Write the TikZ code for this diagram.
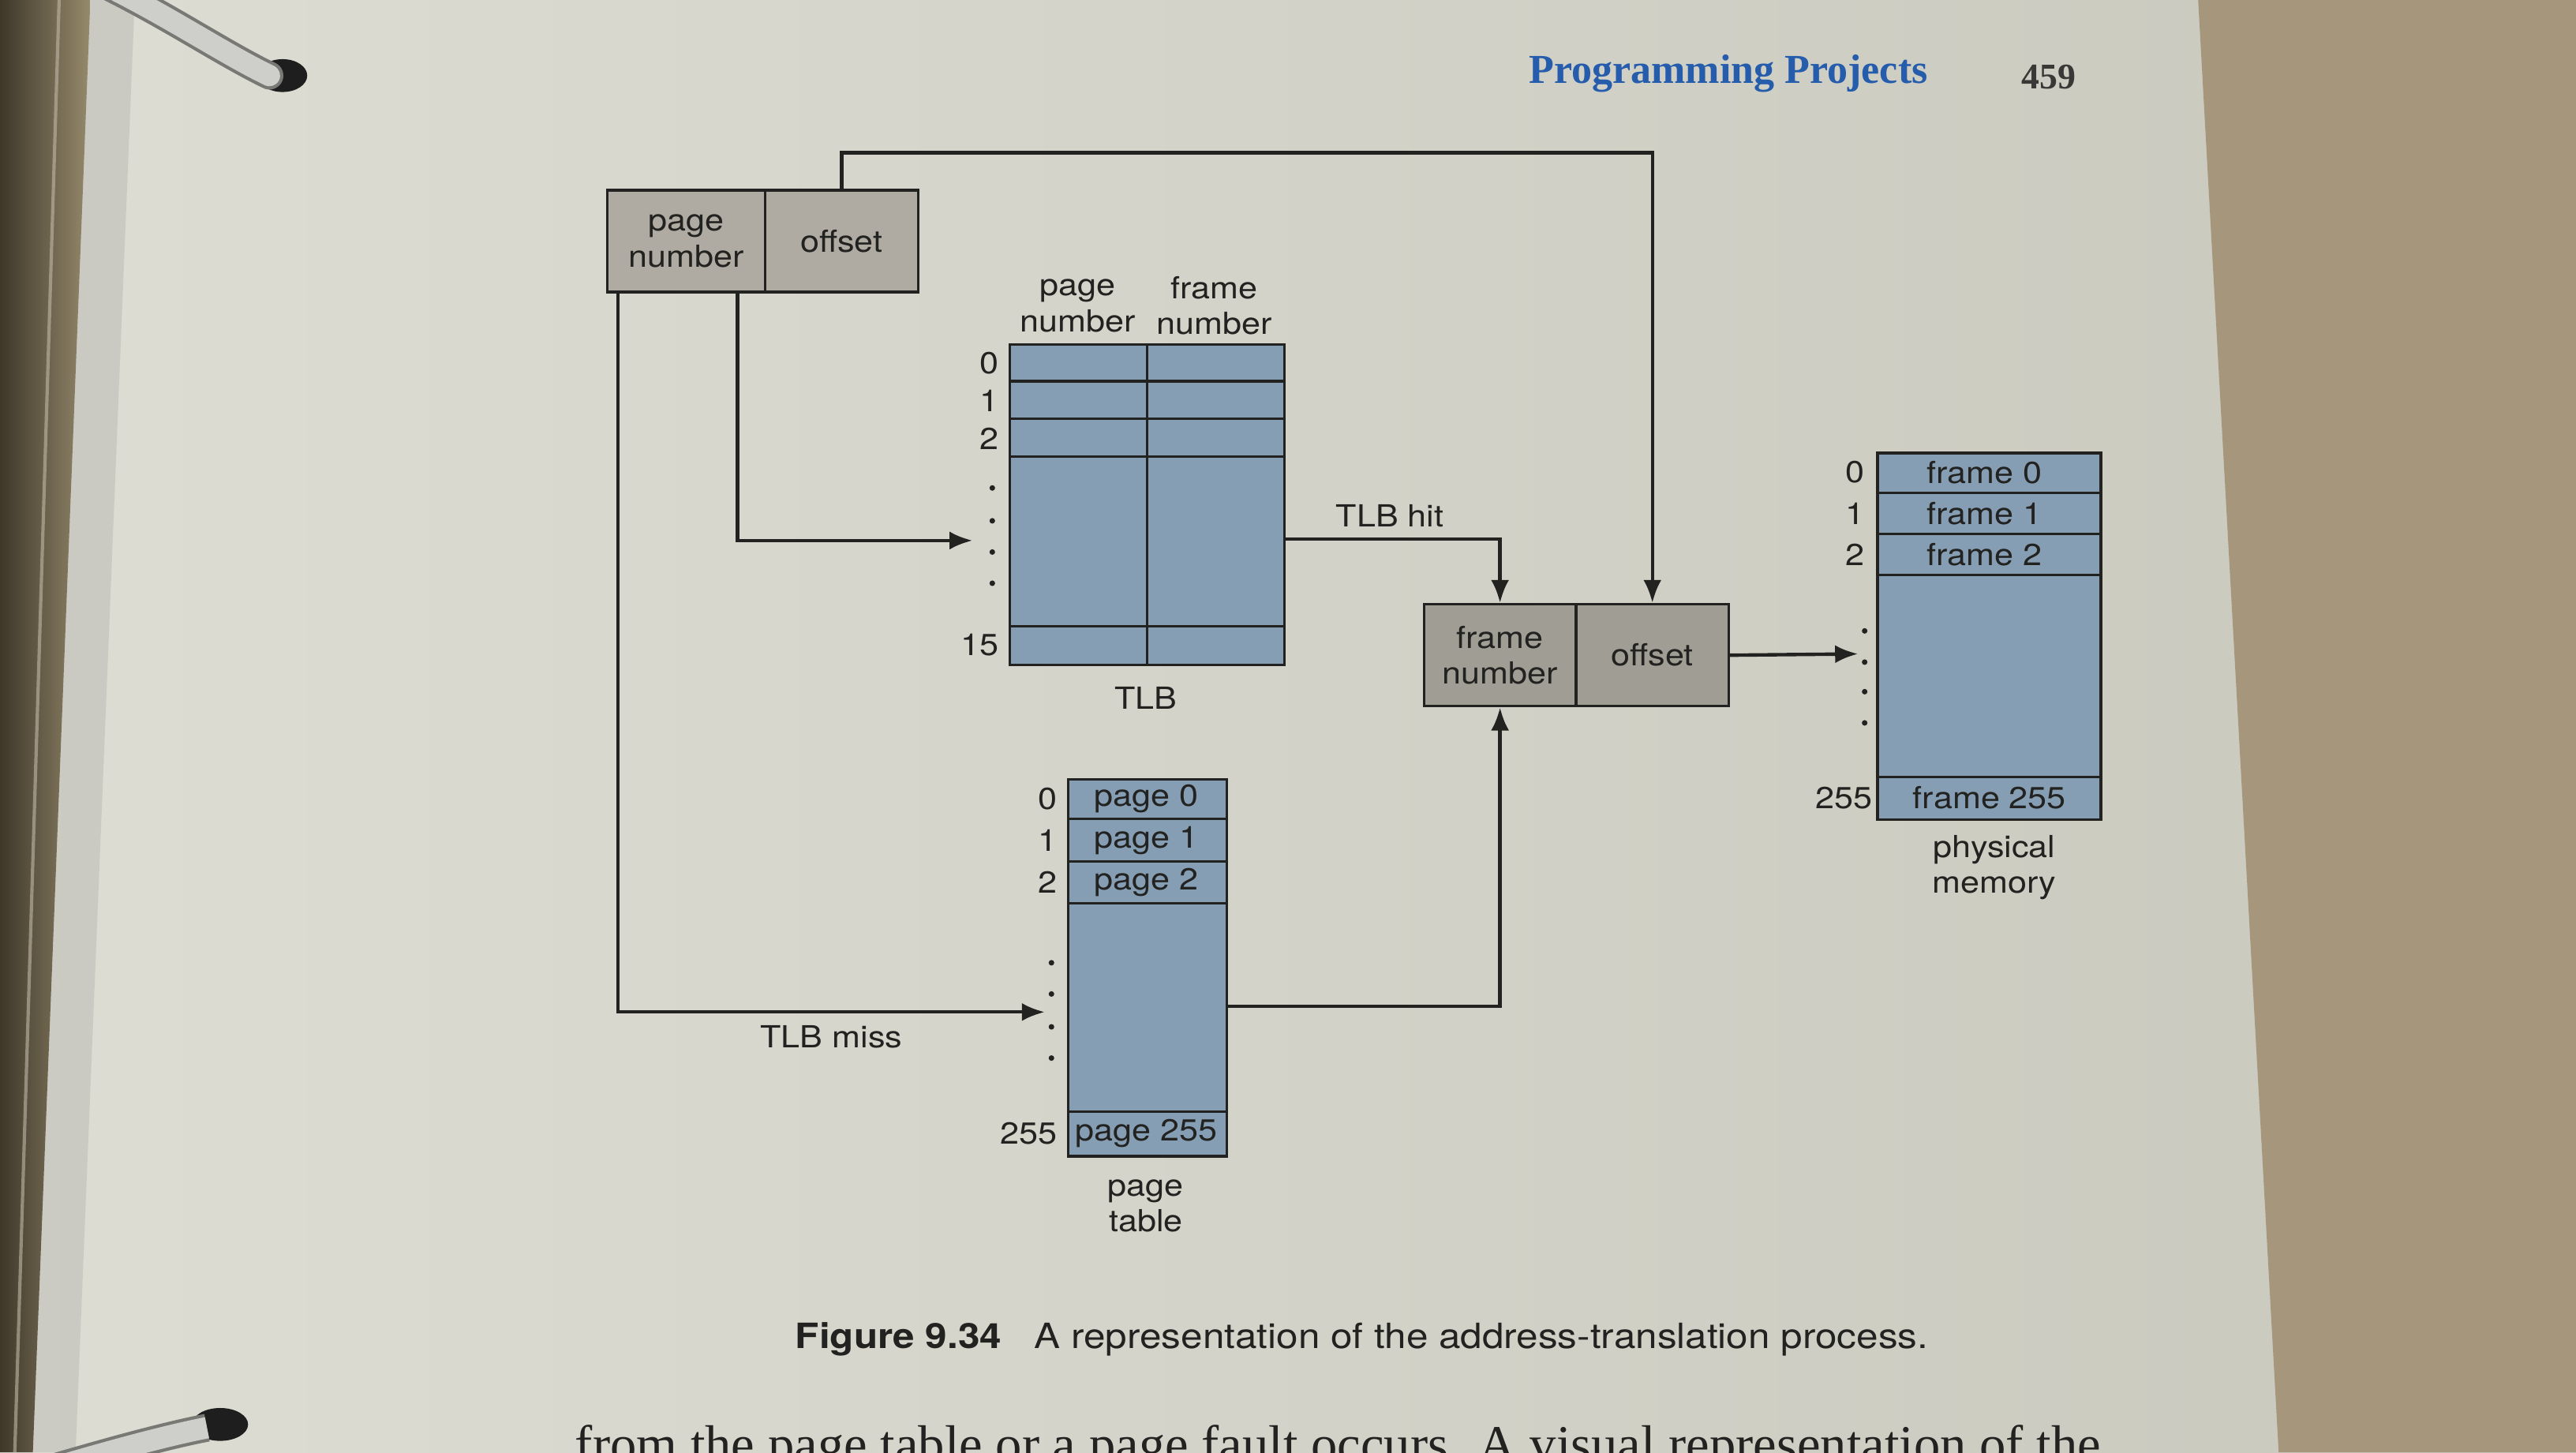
\documentclass[tikz,border=0pt]{standalone}
\usepackage{fontspec}
\setmainfont{Liberation Serif}
\newfontfamily\dfont[FakeStretch=1.12]{TeX Gyre Heros}
\usetikzlibrary{arrows.meta,calc}

\definecolor{pagelt}{RGB}{221,221,212}
\definecolor{pagedk}{RGB}{201,200,189}
\definecolor{deskc}{RGB}{166,150,124}
\definecolor{inkc}{RGB}{34,34,32}
\definecolor{tblue}{RGB}{134,158,180}
\definecolor{lgray}{RGB}{176,171,162}
\definecolor{pgray}{RGB}{160,157,149}
\definecolor{headblue}{RGB}{38,92,172}
\definecolor{metaldk}{RGB}{62,55,42}
\definecolor{metallt}{RGB}{150,138,108}
\definecolor{ringc}{RGB}{206,206,202}
\definecolor{ringedge}{RGB}{120,120,116}
\definecolor{holec}{RGB}{30,30,30}

\begin{document}
\begin{tikzpicture}[x=1pt,y=-1pt,
  dtxt/.style={font=\dfont\fontsize{18.5}{22}\selectfont, text=inkc, inner sep=0pt, align=center},
  idx/.style={dtxt, anchor=east},
  cellbox/.style={dtxt, draw=inkc, line width=1.6pt, anchor=north west},
  graycell/.style={cellbox, fill=lgray},
  pgraycell/.style={cellbox, fill=pgray},
  bluebox/.style={cellbox, fill=tblue},
  rowline/.style={draw=inkc, line width=1.5pt},
  conn/.style={draw=inkc, line width=2.1pt, -{Latex[length=14pt,width=11pt]}},
  ellip/.style={fill=inkc},
]
\useasboundingbox (0,0) rectangle (1568,884);
\clip (0,0) rectangle (1568,884);

% ---------- page, desk and binder ----------
\shade[left color=pagelt, right color=pagedk] (0,0) rectangle (1568,884);
\fill[deskc] (1338,0) -- (1568,0) -- (1568,884) -- (1387,884) -- cycle;
\fill[black, opacity=0.08] (54,0) -- (82,0) -- (46,884) -- (19,884) -- cycle;
\shade[left color=metaldk, right color=metallt] (0,0) -- (55,0) -- (20,884) -- (0,884) -- cycle;
\draw[metallt!60!white, line width=2pt, opacity=0.6] (36,0) -- (9,884);
% rings
\fill[holec] (172,46) ellipse [x radius=15, y radius=10];
\draw[ringedge, line width=17pt, line cap=round] (58,-12) .. controls (100,8) and (135,32) .. (164,46);
\draw[ringc, line width=13pt, line cap=round] (58,-12) .. controls (100,8) and (135,32) .. (164,46);
\fill[holec] (134,867) ellipse [x radius=17, y radius=10];
\draw[ringedge, line width=17pt] (10,900) .. controls (60,885) and (100,874) .. (126,869);
\draw[ringc, line width=13pt] (10,900) .. controls (60,885) and (100,874) .. (126,869);

% ---------- running head ----------
\node[font=\bfseries\fontsize{25}{28}\selectfont, text=headblue, inner sep=0pt] (head) at (1052,45) {Programming Projects};
\node[font=\bfseries\fontsize{22}{26}\selectfont, text=inkc!90, inner sep=0pt] (folio) at (1247,47) {459};

% ---------- logical address ----------
\node[graycell, minimum width=96, minimum height=62] (lpn) at (369,115) {page\\number};
\node[graycell, minimum width=93, minimum height=62] (loff) at (465,115) {offset};

% ---------- TLB ----------
\node[bluebox, minimum width=167, minimum height=195] (tlb) at (614,209) {};
\draw[rowline] (tlb.north) -- (tlb.south);
\foreach \dy in {23,46,69,172}
  \draw[rowline] ($(tlb.north west)+(0,\dy)$) -- ($(tlb.north east)+(0,\dy)$);
\node[dtxt] (tlbh1) at (656,186) {page\\number};
\node[dtxt] (tlbh2) at (739,186) {frame\\number};
\node[idx] (t0) at (608,221) {0};
\node[idx] (t1) at (608,244) {1};
\node[idx] (t2) at (608,267) {2};
\node[idx] (t15) at (608,392.5) {15};
\foreach \yy in {297,317,336,355} \fill[ellip] (604,\yy) circle (1.7);
\node[dtxt] (tlblab) at (697.5,425) {TLB};

% ---------- physical address ----------
\node[pgraycell, minimum width=92.5, minimum height=62] (pfn) at (866,367) {frame\\number};
\node[pgraycell, minimum width=93, minimum height=62] (poff) at (958.5,367) {offset};

% ---------- page table ----------
\node[bluebox, minimum width=96.5, minimum height=229.5] (pt) at (649.5,473.5) {};
\foreach \dy in {25,51,76.5,203}
  \draw[rowline] ($(pt.north west)+(0,\dy)$) -- ($(pt.north east)+(0,\dy)$);
\node[dtxt] (pg0) at (697.75,486) {page 0};
\node[dtxt] (pg1) at (697.75,511.5) {page 1};
\node[dtxt] (pg2) at (697.75,537) {page 2};
\node[dtxt] (pg255) at (697.75,690) {page 255};
\node[idx] (p0) at (643.5,486) {0};
\node[idx] (p1) at (643.5,511.5) {1};
\node[idx] (p2) at (643.5,537) {2};
\node[idx] (p255) at (643.5,690) {255};
\foreach \yy in {586,605,625,644} \fill[ellip] (640,\yy) circle (1.7);
\node[dtxt] (ptlab) at (697.5,734) {page\\table};

% ---------- physical memory ----------
\node[bluebox, minimum width=136, minimum height=223] (mem) at (1142,275) {};
\foreach \dy in {25,50,75,198}
  \draw[rowline] ($(mem.north west)+(0,\dy)$) -- ($(mem.north east)+(0,\dy)$);
\node[dtxt] (fr0) at (1208,287.5) {frame 0};
\node[dtxt] (fr1) at (1208,312.5) {frame 1};
\node[dtxt] (fr2) at (1208,337.5) {frame 2};
\node[dtxt] (fr255) at (1211,485.5) {frame 255};
\node[idx] (m0) at (1135,287.5) {0};
\node[idx] (m1) at (1135,312.5) {1};
\node[idx] (m2) at (1135,337.5) {2};
\node[idx] (m255) at (1140,485.5) {255};
\foreach \yy in {384,403,421,440} \fill[ellip] (1135,\yy) circle (1.7);
\node[dtxt] (memlab) at (1214,528) {physical\\memory};

% ---------- connectors ----------
\coordinate (tlbin) at (592,329);
\coordinate (ptin) at (636,616);
\coordinate (memin) at (1131,398);
\coordinate (lpnA) at ($(lpn.south west)+(80,0)$);
\coordinate (lpnB) at ($(lpn.south west)+(7,0)$);
\coordinate (tlbout) at ($(tlb.north east)+(0,119)$);
\coordinate (ptout) at ($(pt.north east)+(0,139)$);

\draw[conn] (loff.north) -- ++(0,-22) -| (poff.north);
\draw[conn] (lpnA) |- (tlbin);
\draw[conn] (lpnB) |- (ptin);
\draw[conn] (tlbout) -| (pfn.north);
\draw[conn] (ptout) -| (pfn.south);
\draw[conn] (poff.east) -- (memin);
\node[dtxt] (hitlab) at (846,314) {TLB hit};
\node[dtxt] (misslab) at (506,631) {TLB miss};

% ---------- caption and body text ----------
\node[anchor=west, inner sep=0pt, text=inkc, font=\dfont\fontsize{21.2}{25}\selectfont] (cap) at (484,815)
  {\textbf{Figure 9.34}\hspace{20pt}A representation of the address-translation process.};
\node[anchor=base west, inner sep=0pt, text=inkc, font=\fontsize{32}{36}\selectfont] (body) at (350,890)
  {from the page table or a page fault occurs. A visual representation of the};
\end{tikzpicture}
\end{document}
